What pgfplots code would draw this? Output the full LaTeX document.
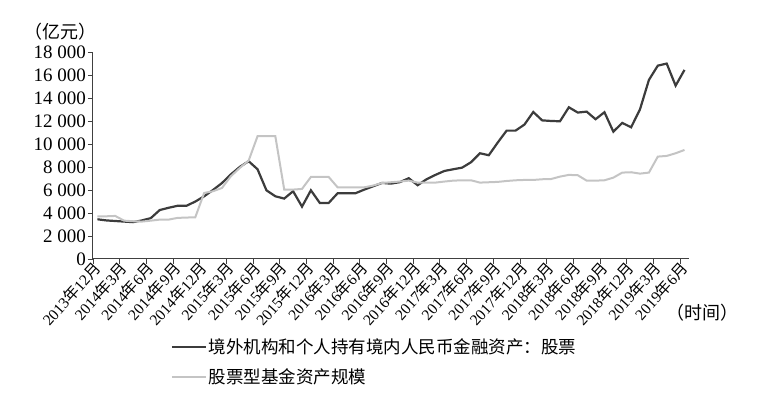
\documentclass[border=0pt]{standalone}
\usepackage{pgfplots}
\pgfplotsset{compat=1.18}
\usepackage{fontspec}
\setmainfont{Liberation Serif}
\newfontfamily\cjk{Noto Sans CJK SC}
\newcommand{\ym}[2]{#1{\cjk 年}#2{\cjk 月}}
\definecolor{darkline}{HTML}{3C3C3C}
\definecolor{lightline}{HTML}{C4C4C4}
\definecolor{axisgray}{HTML}{404040}
\begin{document}
\begin{tikzpicture}
\begin{axis}[
  scale only axis,
  width=596pt, height=207pt,
  xmin=0, xmax=67, ymin=0, ymax=18000,
  axis x line*=bottom, axis y line*=left,
  axis line style={-, axisgray, line width=1pt},
  tick style={axisgray, line width=0.8pt},
  tick align=outside,
  major tick length=5pt,
  xtick={0,3,...,66},
  xticklabels={\ym{2013}{12},\ym{2014}{3},\ym{2014}{6},\ym{2014}{9},\ym{2014}{12},
    \ym{2015}{3},\ym{2015}{6},\ym{2015}{9},\ym{2015}{12},
    \ym{2016}{3},\ym{2016}{6},\ym{2016}{9},\ym{2016}{12},
    \ym{2017}{3},\ym{2017}{6},\ym{2017}{9},\ym{2017}{12},
    \ym{2018}{3},\ym{2018}{6},\ym{2018}{9},\ym{2018}{12},
    \ym{2019}{3},\ym{2019}{6}},
  xticklabel style={rotate=48, anchor=east, font=\fontsize{15.5}{16}\selectfont, inner sep=1pt, yshift=-4pt, xshift=3pt},
  ytick={0,2000,...,18000},
  scaled y ticks=false,
  yticklabel style={font=\fontsize{19}{20}\selectfont, inner sep=2pt},
  /pgf/number format/assume math mode=true,
  /pgf/number format/1000 sep={\ },
  clip=false,
  legend style={draw=none, fill=none, at={(0.125,-0.365)}, anchor=north west,
    font=\cjk\fontsize{17.5}{20}\selectfont, row sep=10pt, legend cell align=left},
  legend image code/.code={\draw[#1] (0pt,0pt) -- (34pt,0pt);},
]
\addplot[darkline, line width=2.2pt] table[x expr=\thisrowno{0}+0.5, y index=1] {
0 3450
1 3350
2 3300
3 3250
4 3200
5 3350
6 3550
7 4250
8 4450
9 4620
10 4620
11 4990
12 5450
13 6000
14 6600
15 7350
16 8000
17 8500
18 7800
19 5970
20 5450
21 5250
22 5890
23 4550
24 5970
25 4870
26 4870
27 5710
28 5710
29 5710
30 6030
31 6320
32 6610
33 6550
34 6680
35 7020
36 6410
37 6930
38 7310
39 7650
40 7800
41 7940
42 8410
43 9190
44 9020
45 10120
46 11160
47 11160
48 11680
49 12780
50 12050
51 12000
52 11970
53 13190
54 12730
55 12810
56 12150
57 12760
58 11070
59 11830
60 11450
61 13020
62 15570
63 16810
64 16990
65 15070
66 16440
};
\addlegendentry{境外机构和个人持有境内人民币金融资产：股票}
\addplot[lightline, line width=2pt] table[x expr=\thisrowno{0}+0.5, y index=1] {
0 3710
1 3710
2 3740
3 3330
4 3280
5 3250
6 3330
7 3420
8 3420
9 3570
10 3600
11 3620
12 5740
13 5890
14 6170
15 7190
16 7910
17 8550
18 10670
19 10670
20 10670
21 6030
22 6030
23 6090
24 7130
25 7130
26 7130
27 6230
28 6230
29 6230
30 6230
31 6380
32 6610
33 6670
34 6730
35 6810
36 6640
37 6640
38 6640
39 6730
40 6810
41 6840
42 6840
43 6640
44 6670
45 6700
46 6780
47 6840
48 6870
49 6870
50 6930
51 6950
52 7160
53 7310
54 7280
55 6810
56 6810
57 6840
58 7070
59 7510
60 7540
61 7420
62 7510
63 8900
64 8960
65 9190
66 9480
};
\addlegendentry{股票型基金资产规模}
\node[font=\cjk\fontsize{18}{20}\selectfont] at (rel axis cs:-0.055,1.10) {（亿元）};
\node[font=\cjk\fontsize{18}{20}\selectfont] at (rel axis cs:1.022,-0.261) {（时间）};
\coordinate (bl) at (rel axis cs:-0.156,-0.671);
\coordinate (tr) at (rel axis cs:1.136,1.251);
\end{axis}
\path (bl) rectangle (tr);
\end{tikzpicture}
\end{document}
